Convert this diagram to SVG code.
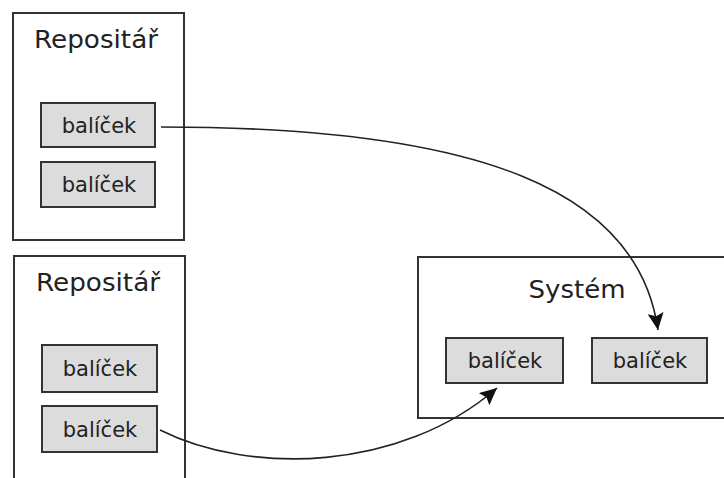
<svg xmlns="http://www.w3.org/2000/svg" width="724" height="478" viewBox="0 0 724 478">
  <style>
    .frame { fill: #ffffff; stroke: #333333; stroke-width: 2; }
    .pkg { fill: #dcdcdc; stroke: #333333; stroke-width: 2; }
    .title { font-family: "DejaVu Sans", sans-serif; font-size: 25px; fill: #222222; text-anchor: middle; }
    .label { font-family: "DejaVu Sans", sans-serif; font-size: 21px; fill: #222222; text-anchor: middle; }
    .link { fill: none; stroke: #222222; stroke-width: 1.6; }
  </style>
  <defs>
    <marker id="arrow" markerUnits="userSpaceOnUse" markerWidth="20" markerHeight="18" refX="17" refY="8" orient="auto">
      <path d="M0,0 L17,8 L0,16 L3,8 Z" fill="#111111"/>
    </marker>
  </defs>

  <!-- upper repository -->
  <g id="repo1">
    <rect class="frame" x="13" y="13" width="171" height="227"/>
    <text class="title" x="96" y="48" textLength="124" lengthAdjust="spacingAndGlyphs">Repositář</text>
  </g>
  <g id="repo1-pkg1">
    <rect class="pkg" x="41" y="103" width="114" height="44"/>
    <text class="label" x="99" y="133">balíček</text>
  </g>
  <g id="repo1-pkg2">
    <rect class="pkg" x="41" y="162" width="114" height="45"/>
    <text class="label" x="99" y="192">balíček</text>
  </g>

  <!-- lower repository (open at the bottom edge) -->
  <g id="repo2">
    <path class="frame" d="M14,480 L14,256 L185,256 L185,480"/>
    <text class="title" x="98" y="291" textLength="124" lengthAdjust="spacingAndGlyphs">Repositář</text>
  </g>
  <g id="repo2-pkg1">
    <rect class="pkg" x="42" y="345" width="115" height="47"/>
    <text class="label" x="100" y="376">balíček</text>
  </g>
  <g id="repo2-pkg2">
    <rect class="pkg" x="42" y="406" width="115" height="46"/>
    <text class="label" x="100" y="437">balíček</text>
  </g>

  <!-- target system (continues past the right edge) -->
  <g id="system">
    <path class="frame" d="M730,257 L418,257 L418,418 L730,418"/>
    <text class="title" x="577" y="298" textLength="97" lengthAdjust="spacingAndGlyphs">Systém</text>
  </g>
  <g id="system-pkg1">
    <rect class="pkg" x="446" y="338" width="117" height="45"/>
    <text class="label" x="505" y="368">balíček</text>
  </g>
  <g id="system-pkg2">
    <rect class="pkg" x="592" y="338" width="115" height="45"/>
    <text class="label" x="650" y="368">balíček</text>
  </g>

  <g id="connectors">
    <path class="link" d="M161,127 C480,127 638,190 658,330" marker-end="url(#arrow)"/>
    <path class="link" d="M160,430 C250,475 400,472 497,388" marker-end="url(#arrow)"/>
  </g>
</svg>
